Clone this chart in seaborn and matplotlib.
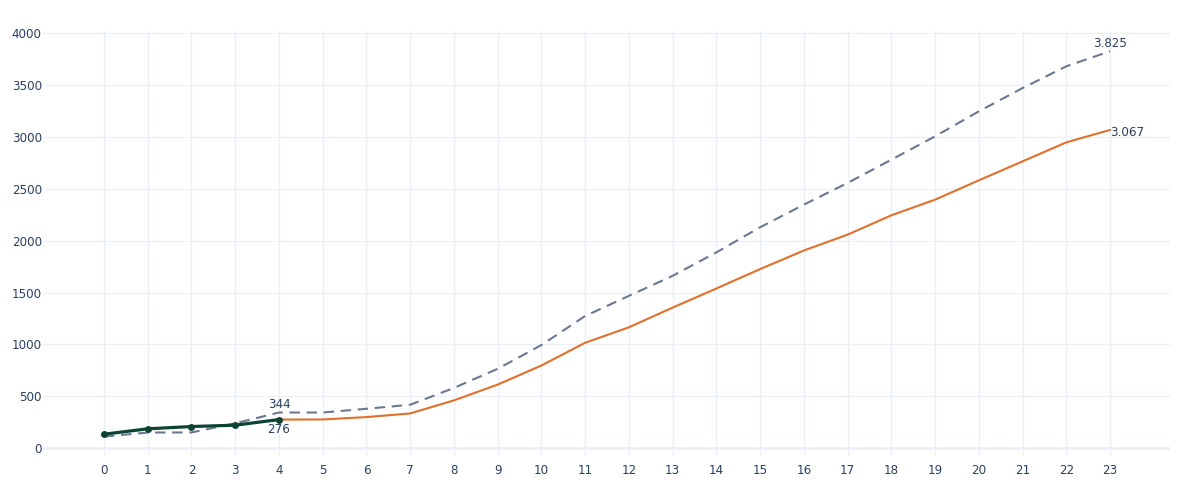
import numpy as np
import pandas as pd
import seaborn as sns
import matplotlib.pyplot as plt

# values
actual_x = [0, 1, 2, 3, 4]
actual_y = [135, 187, 209, 222, 276]

forecast_x = list(range(4, 24))
forecast_y = [276, 277, 300, 335, 461, 613, 797, 1016, 1165, 1355,
              1539, 1726, 1905, 2058, 2244, 2395, 2581, 2764, 2947, 3067]

upper_x = list(range(0, 24))
upper_y = [112, 151, 152, 240, 344, 344, 380, 419, 581, 765, 994, 1274,
           1468, 1661, 1887, 2129, 2347, 2556, 2780, 3005, 3246, 3470, 3680, 3825]

x_ticks = list(range(0, 24))
y_ticks = list(range(0, 4001, 500))

TEXT = '#2a3f5f'
GRID = '#ebf0f8'

sns.set_theme(style='white')
plt.rcParams['font.family'] = ['DejaVu Sans']

fig = plt.figure(figsize=(12, 5), dpi=100)
ax = fig.add_axes([0.036, 0.088, 0.939, 0.85])

df_actual = pd.DataFrame({'x': actual_x, 'y': actual_y})
df_fc = pd.DataFrame({'x': forecast_x, 'y': forecast_y})
df_up = pd.DataFrame({'x': upper_x, 'y': upper_y})

sns.lineplot(data=df_up, x='x', y='y', ax=ax, color='#6b7890', lw=1.5,
             zorder=3).lines[-1].set_dashes([5, 3.2])
sns.lineplot(data=df_fc, x='x', y='y', ax=ax, color='#e0702c', lw=1.5, zorder=4)
sns.lineplot(data=df_actual, x='x', y='y', ax=ax, color='#0c4332', lw=2.3,
             marker='o', markersize=5, markeredgewidth=0, zorder=5)

ax.set_xlim(-1.39, 24.37)
ax.set_ylim(-75, 4020)
ax.set_xticks(x_ticks)
ax.set_yticks(y_ticks)
ax.grid(True, color=GRID, lw=1)
ax.axhline(0, color=GRID, lw=2, zorder=1)
ax.set_axisbelow(True)
for s in ax.spines.values():
    s.set_visible(False)
ax.tick_params(colors=TEXT, labelsize=8.6, length=0)
ax.tick_params(axis='y', pad=1)
ax.tick_params(axis='x', pad=6)
ax.set_xlabel('')
ax.set_ylabel('')

fs = 8.6
ax.annotate('344', (upper_x[4], upper_y[4]), xytext=(0, 5.6), textcoords='offset points',
            ha='center', va='center', color=TEXT, fontsize=fs)
ax.annotate('276', (actual_x[-1], actual_y[-1]), xytext=(0, -7.2), textcoords='offset points',
            ha='center', va='center', color=TEXT, fontsize=fs)
ax.annotate('3.825', (upper_x[-1], upper_y[-1]), xytext=(0, 5.8), textcoords='offset points',
            ha='center', va='center', color=TEXT, fontsize=fs)
ax.annotate('3.067', (forecast_x[-1], forecast_y[-1]), xytext=(0, -1.8), textcoords='offset points',
            ha='left', va='center', color=TEXT, fontsize=fs)

fig.savefig('out.png', dpi=100)
